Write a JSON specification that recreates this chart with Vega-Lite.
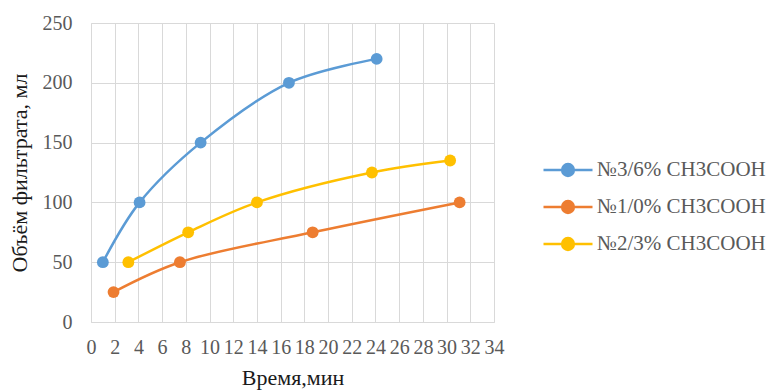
{
  "$schema": "https://vega.github.io/schema/vega-lite/v6.json",
  "width": 403,
  "height": 299,
  "autosize": {"type": "none"},
  "padding": {"left": 91, "top": 23, "right": 287, "bottom": 68},
  "background": "white",
  "config": {
    "font": "Times New Roman",
    "view": {"stroke": null},
    "axis": {
      "gridColor": "#d9d9d9",
      "gridWidth": 1,
      "domainColor": "#d9d9d9",
      "ticks": false,
      "labelColor": "#595959",
      "titleFontWeight": "normal",
      "titleColor": "#1a1a1a"
    }
  },
  "data": {
    "values": [
      {"series": "№3/6% CH3COOH", "t": 1.0, "v": 50},
      {"series": "№3/6% CH3COOH", "t": 4.1, "v": 100},
      {"series": "№3/6% CH3COOH", "t": 9.25, "v": 150},
      {"series": "№3/6% CH3COOH", "t": 16.7, "v": 200},
      {"series": "№3/6% CH3COOH", "t": 24.1, "v": 220},
      {"series": "№1/0% CH3COOH", "t": 1.9, "v": 25},
      {"series": "№1/0% CH3COOH", "t": 7.5, "v": 50},
      {"series": "№1/0% CH3COOH", "t": 18.7, "v": 75},
      {"series": "№1/0% CH3COOH", "t": 31.1, "v": 100},
      {"series": "№2/3% CH3COOH", "t": 3.15, "v": 50},
      {"series": "№2/3% CH3COOH", "t": 8.2, "v": 75},
      {"series": "№2/3% CH3COOH", "t": 14.0, "v": 100},
      {"series": "№2/3% CH3COOH", "t": 23.7, "v": 125},
      {"series": "№2/3% CH3COOH", "t": 30.3, "v": 135}
    ]
  },
  "encoding": {
    "x": {
      "field": "t",
      "type": "quantitative",
      "scale": {"domain": [0, 34], "nice": false, "zero": true},
      "axis": {
        "title": "Время,мин",
        "values": [0, 2, 4, 6, 8, 10, 12, 14, 16, 18, 20, 22, 24, 26, 28, 30, 32, 34],
        "labelOverlap": false,
        "labelPadding": 15,
        "labelFlush": false,
        "titlePadding": 10,
        "labelFont": "Times New Roman",
        "labelFontSize": 20,
        "titleFont": "Times New Roman",
        "titleFontSize": 22,
        "domain": true
      }
    },
    "y": {
      "field": "v",
      "type": "quantitative",
      "scale": {"domain": [0, 250], "nice": false},
      "axis": {
        "title": "Объём фильтрата, мл",
        "values": [0, 50, 100, 150, 200, 250],
        "labelPadding": 19,
        "titlePadding": 11,
        "labelFont": "Times New Roman",
        "labelFontSize": 20,
        "titleFont": "Times New Roman",
        "titleFontSize": 22,
        "domain": true
      }
    },
    "color": {
      "field": "series",
      "type": "nominal",
      "scale": {
        "domain": ["№3/6% CH3COOH", "№1/0% CH3COOH", "№2/3% CH3COOH"],
        "range": ["#5B9BD5", "#ED7D31", "#FFC000"]
      },
      "legend": {
        "title": null,
        "orient": "none",
        "legendX": 451,
        "legendY": 121,
        "padding": 0,
        "rowPadding": -7,
        "labelFont": "Times New Roman",
        "labelFontSize": 21,
        "labelColor": "#595959",
        "labelOffset": 3,
        "labelLimit": 300,
        "symbolType": "M-1,0L1,0M-0.24,0A0.24,0.24 0 1,1 0.24,0A0.24,0.24 0 1,1 -0.24,0",
        "symbolSize": 2401,
        "symbolStrokeWidth": 2.5,
        "encode": {
          "symbols": {
            "update": {
              "fill": {"scale": "color", "field": "value"},
              "stroke": {"scale": "color", "field": "value"},
              "opacity": {"value": 1}
            }
          }
        }
      }
    }
  },
  "layer": [
    {
      "mark": {"type": "line", "interpolate": "catmull-rom", "strokeWidth": 2.5}
    },
    {
      "mark": {"type": "circle", "size": 140, "opacity": 1}
    }
  ]
}
